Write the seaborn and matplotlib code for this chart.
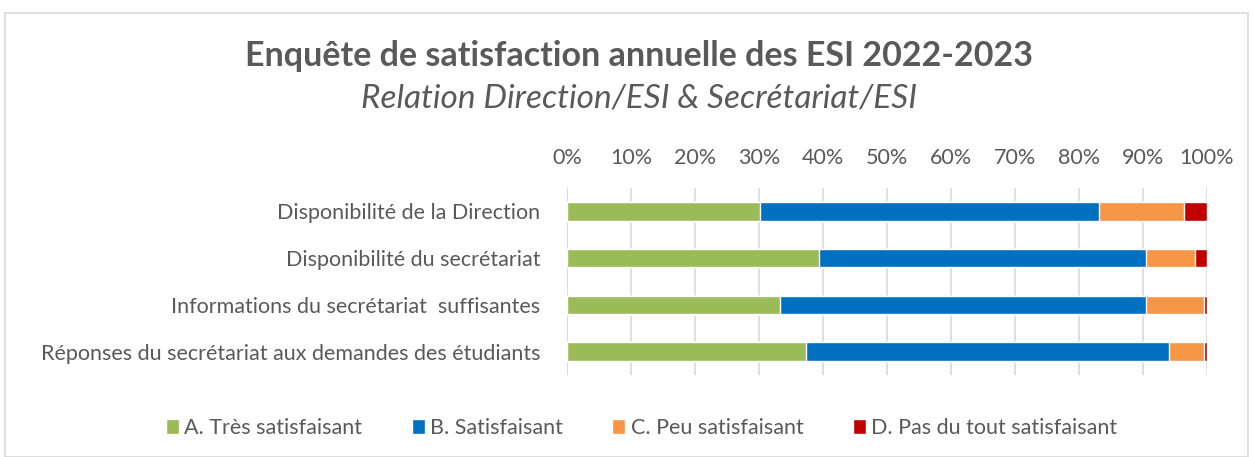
import numpy as np
import pandas as pd
import seaborn as sns
import matplotlib.pyplot as plt
from matplotlib.patches import Rectangle
from matplotlib.ticker import PercentFormatter

# data (percent of answers)
categories = ["Disponibilité de la Direction",
              "Disponibilité du secrétariat",
              "Informations du secrétariat  suffisantes",
              "Réponses du secrétariat aux demandes des étudiants"]
levels = ["A. Très satisfaisant", "B. Satisfaisant",
          "C. Peu satisfaisant", "D. Pas du tout satisfaisant"]
tres_satisfaisant = [30.1, 39.3, 33.3, 37.4]
satisfaisant = [53.0, 51.2, 57.2, 56.7]
peu_satisfaisant = [13.3, 7.7, 9.0, 5.4]
pas_du_tout = [3.6, 1.8, 0.5, 0.5]
colors = ["#9BBB59", "#0070C0", "#F79646", "#C00000"]

sns.set_theme(style="white")
plt.rcParams['font.family'] = ['Lato', 'DejaVu Sans']
gray = "#595959"

df = pd.DataFrame({"cat": categories,
                   levels[0]: tres_satisfaisant,
                   levels[1]: satisfaisant,
                   levels[2]: peu_satisfaisant,
                   levels[3]: pas_du_tout})
df = df.set_index("cat")
tot = df.sum(axis=1)
share = df.div(tot, axis=0) * 100
cum = share.cumsum(axis=1).reset_index()

fig = plt.figure(figsize=(12.53, 4.57), dpi=100)
ax = fig.add_axes([0.4525, 0.179, 0.5108, 0.41])

# draw from the outermost cumulative layer inwards so segments stack
for lvl, c in reversed(list(zip(levels, colors))):
    sns.barplot(data=cum, x=lvl, y="cat", color=c, orient="h",
                width=0.4, ax=ax, label=lvl, saturation=1)

ax.set_xlim(0, 100)
ax.xaxis.set_major_formatter(PercentFormatter(decimals=0))
ax.set_xticks(np.arange(0, 101, 10))
ax.xaxis.tick_top()
ax.tick_params(axis="x", length=0, labelsize=15.5, colors=gray, pad=14)
ax.tick_params(axis="y", length=0, labelsize=15.5, colors=gray, pad=19)
ax.set_xlabel("")
ax.set_ylabel("")
ax.grid(axis="x", color="#D9D9D9", linewidth=1.2)
ax.set_axisbelow(True)
for s in ax.spines.values():
    s.set_visible(False)
ax.axvline(0, color="#D9D9D9", linewidth=1.2, zorder=0.5)

handles, labels = ax.get_legend_handles_labels()
if ax.get_legend() is not None:
    ax.get_legend().remove()
order = [labels.index(l) for l in levels]
leg = fig.legend([handles[i] for i in order], levels, loc="center",
                 bbox_to_anchor=(0.512, 0.063), ncol=4, frameon=False,
                 fontsize=15.5, handlelength=0.6, handleheight=0.7,
                 handletextpad=0.25, columnspacing=2.3)
for t in leg.get_texts():
    t.set_color(gray)

fig.text(0.51, 0.877, "Enquête de satisfaction annuelle des ESI 2022-2023",
         ha="center", va="center", fontsize=24.5, fontweight="bold", color=gray)
fig.text(0.51, 0.785, "Relation Direction/ESI & Secrétariat/ESI",
         ha="center", va="center", fontsize=24, fontstyle="italic", color=gray)

fig.patches.append(Rectangle((0.004, 0.0), 0.992, 0.972, transform=fig.transFigure,
                             fill=False, edgecolor="#D9D9D9", linewidth=1.2))

fig.savefig("out.png", dpi=100)
